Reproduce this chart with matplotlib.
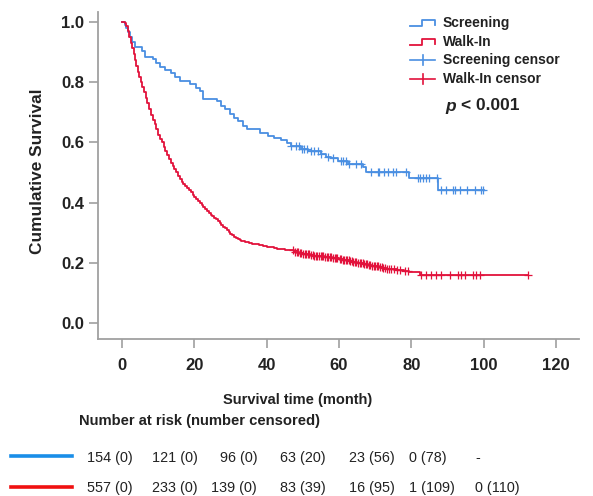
import numpy as np
import matplotlib.pyplot as plt
from matplotlib.lines import Line2D

plt.rcParams['font.family'] = ['Liberation Sans', 'DejaVu Sans']

# Kaplan-Meier steps (month, survival)
scr_t = [0, 0.8, 1.2, 1.7, 2.2, 2.9, 3.6, 5.6, 6.4, 8.6, 9.5, 10.6, 12.0, 13.5, 14.7,
         16.1, 18.9, 20.5, 21.7, 22.5, 26.4, 27.5, 28.5, 30.0, 31.0, 32.0, 33.5, 34.7,
         38.3, 40.3, 42.0, 43.9, 45.5, 46.7, 49.4, 51.4, 55.0, 56.4, 57.8, 59.7, 62.5,
         66.7, 67.5, 79.4, 87.5]
scr_s = [1.0, 0.99, 0.98, 0.965, 0.95, 0.935, 0.917, 0.903, 0.883, 0.877, 0.865, 0.85,
         0.84, 0.83, 0.817, 0.803, 0.793, 0.78, 0.77, 0.745, 0.737, 0.72, 0.71, 0.693,
         0.68, 0.67, 0.655, 0.643, 0.63, 0.62, 0.613, 0.607, 0.597, 0.587, 0.577, 0.57,
         0.563, 0.553, 0.547, 0.537, 0.527, 0.517, 0.50, 0.483, 0.443]
scr_end = 100
scr_cens = [46.7, 48.1, 49.0, 49.9, 50.4, 51.3, 52.2, 53.1, 54.1, 55.0, 56.9, 58.3,
            60.6, 61.0, 61.9, 62.8, 64.7, 66.1, 68.9, 70.7, 71.1, 72.5, 73.5, 74.9,
            75.8, 78.6, 81.9, 82.3, 83.2, 84.2, 85.0, 87.0, 88.3, 89.7, 91.6, 92.0,
            93.4, 95.3, 97.6, 99.4, 99.9]

walk_t = [0, 0.8, 1.2, 1.6, 2.0, 2.4, 2.8, 3.2, 3.6, 4.0, 4.4, 4.8, 5.2, 5.6, 6.0, 6.5,
          7.0, 7.5, 8.0, 8.5, 9.0, 9.5, 10.0, 10.5, 11.0, 11.5, 12.0, 12.5, 13.0, 13.5,
          14.0, 14.5, 15.0, 15.5, 16.0, 16.5, 17.0, 17.5, 18.0, 18.5, 19.0, 19.5, 20.0,
          20.5, 21.0, 21.5, 22.0, 22.5, 23.0, 23.5, 24.0, 24.5, 25.0, 25.5, 26.0, 26.5,
          27.0, 27.5, 28.0, 28.5, 29.0, 29.5, 30.0, 30.5, 31.0, 31.5, 32.0, 32.5, 33.0,
          33.5, 34, 35, 36, 37, 38, 39, 40, 41, 42, 43, 44, 45, 46, 47.5, 49, 50, 51,
          52, 53, 54, 55, 56, 57, 58, 59, 60, 61, 62, 63, 64, 65, 66, 67, 68, 69, 70,
          71, 72, 73, 74, 76, 78, 79.5, 82.3]
walk_s = [1.0, 0.995, 0.985, 0.97, 0.95, 0.93, 0.912, 0.893, 0.873, 0.853, 0.835, 0.818,
          0.80, 0.783, 0.767, 0.748, 0.73, 0.71, 0.69, 0.675, 0.66, 0.643, 0.625, 0.612,
          0.60, 0.585, 0.57, 0.558, 0.545, 0.532, 0.52, 0.51, 0.50, 0.489, 0.478, 0.47,
          0.462, 0.456, 0.45, 0.443, 0.435, 0.426, 0.418, 0.411, 0.405, 0.398, 0.392,
          0.385, 0.378, 0.371, 0.365, 0.36, 0.355, 0.35, 0.345, 0.338, 0.332, 0.326,
          0.32, 0.314, 0.308, 0.302, 0.296, 0.291, 0.286, 0.282, 0.279, 0.276, 0.274,
          0.272, 0.27, 0.267, 0.264, 0.261, 0.258, 0.255, 0.253, 0.251, 0.249, 0.247,
          0.246, 0.244, 0.243, 0.236, 0.232, 0.23, 0.228, 0.226, 0.224, 0.223, 0.221,
          0.22, 0.218, 0.217, 0.216, 0.214, 0.211, 0.208, 0.206, 0.203, 0.2, 0.198,
          0.195, 0.193, 0.19, 0.188, 0.186, 0.184, 0.181, 0.178, 0.176, 0.174, 0.17,
          0.158]
walk_end = 112.4
walk_cens = [47.2, 47.8, 48.3, 48.8, 49.2, 49.6, 50.1, 50.5, 51.0, 51.4, 51.8, 52.3,
             52.7, 53.2, 53.6, 54.0, 54.5, 55.0, 55.3, 55.7, 56.1, 56.6, 57.0, 57.5,
             57.9, 58.4, 58.8, 59.2, 59.6, 60.2, 60.6, 61.0, 61.5, 62.0, 62.3, 62.7,
             63.1, 63.5, 64.0, 64.4, 64.8, 65.2, 65.7, 66.1, 66.6, 67.0, 67.4, 67.9,
             68.3, 68.7, 69.2, 69.6, 70.0, 70.5, 70.9, 71.4, 71.8, 72.3, 72.8, 73.3,
             73.8, 74.5, 75.3, 76.1, 77.0, 78.2, 79.0, 82.8, 84.2, 85.6, 86.9, 88.3,
             90.6, 93.0, 93.9, 94.8, 97.1, 98.0, 98.9, 112.4]

risk_scr = ["154 (0)", "121 (0)", "96 (0)", "63 (20)", "23 (56)", "0 (78)", "-"]
risk_walk = ["557 (0)", "233 (0)", "139 (0)", "83 (39)", "16 (95)", "1 (109)", "0 (110)"]

blue = '#4a8fe2'
red = '#e2123c'
W, H = 593, 496


def surv_at(ts, ss, t):
    idx = np.searchsorted(ts, t, side='right') - 1
    return np.array(ss)[idx]


def fx(x):
    return x / W


def fy(y):
    return 1 - y / H


fig = plt.figure(figsize=(W / 100, H / 100), dpi=100)
ax = fig.add_axes([fx(98), fy(339), (579 - 98) / W, (339 - 12) / H])

ax.step(scr_t + [scr_end], scr_s + [scr_s[-1]], where='post', color=blue, lw=1.3)
ax.step(walk_t + [walk_end], walk_s + [walk_s[-1]], where='post', color=red, lw=1.3)
ax.plot(scr_cens, surv_at(scr_t, scr_s, scr_cens), ls='none', marker='+',
        ms=5.5, mew=0.9, color=blue)
ax.plot(walk_cens, surv_at(walk_t, walk_s, walk_cens), ls='none', marker='+',
        ms=5.5, mew=0.9, color=red)

ax.set_xlim(-6.64, 126.4)
ax.set_ylim(-0.053, 1.033)
ax.set_xticks(range(0, 121, 20))
ax.set_yticks([0, 0.2, 0.4, 0.6, 0.8, 1.0])
ax.set_yticklabels(['0.0', '0.2', '0.4', '0.6', '0.8', '1.0'])
for s in ['top', 'right']:
    ax.spines[s].set_visible(False)
for s in ['left', 'bottom']:
    ax.spines[s].set_color('#a0a0a0')
    ax.spines[s].set_linewidth(1.3)
ax.tick_params(axis='both', colors='#a0a0a0', length=6.5, width=1.2, direction='out',
               labelcolor='#222222', labelsize=12)
ax.tick_params(axis='x', pad=7)
ax.tick_params(axis='y', pad=3.5)
for lab in ax.get_xticklabels() + ax.get_yticklabels():
    lab.set_fontweight('bold')

fig.text(fx(38), fy(171), 'Cumulative Survival', rotation=90, ha='center', va='center',
         fontsize=12.4, weight='bold', color='#222222')
fig.text(fx(298), fy(400), 'Survival time (month)', ha='center', va='center',
         fontsize=10.5, weight='bold', color='#222222')
fig.text(fx(79), fy(421), 'Number at risk (number censored)', ha='left', va='center',
         fontsize=10.6, weight='bold', color='#222222')

# legend drawn by hand
leg_y = [23, 42, 60, 79]
leg_lab = ['Screening', 'Walk-In', 'Screening censor', 'Walk-In censor']
leg_col = [blue, red, blue, red]
for i in range(4):
    y = leg_y[i]
    c = leg_col[i]
    if i < 2:
        xs = [410, 421.7, 421.7, 435, 435]
        ys = [y + 3, y + 3, y - 3, y - 3, y + 1.5]
        fig.add_artist(Line2D([fx(v) for v in xs], [fy(v) for v in ys], color=c, lw=1.3))
    else:
        fig.add_artist(Line2D([fx(410), fx(435)], [fy(y), fy(y)], color=c, lw=1.2))
        fig.add_artist(Line2D([fx(422.5), fx(422.5)], [fy(y - 5), fy(y + 5)], color=c, lw=1.2))
    fig.text(fx(443), fy(y), leg_lab[i], ha='left', va='center', fontsize=10,
             weight='bold', color='#222222')

fig.text(fx(445), fy(107), 'p', ha='left', va='center', fontsize=12.5, weight='bold',
         style='italic', color='#222222')
fig.text(fx(461), fy(106), '< 0.001', ha='left', va='center', fontsize=12.5,
         weight='bold', color='#222222')

# number at risk table
col_x = [87, 152, 217, 280, 349, 409, 475]
fig.add_artist(Line2D([fx(11), fx(72)], [fy(456), fy(456)], color='#1a8ee8', lw=2.6))
fig.add_artist(Line2D([fx(11), fx(72)], [fy(487), fy(487)], color='#f01010', lw=2.6))
for i in range(len(col_x)):
    fig.text(fx(col_x[i] + 3 if i == 2 else col_x[i]), fy(458), risk_scr[i], ha='left',
             va='center', fontsize=10.4, color='#222222')
    fig.text(fx(col_x[i] - 6 if i == 2 else col_x[i]), fy(488), risk_walk[i], ha='left',
             va='center', fontsize=10.4, color='#222222')

fig.savefig('out.png', dpi=100)
